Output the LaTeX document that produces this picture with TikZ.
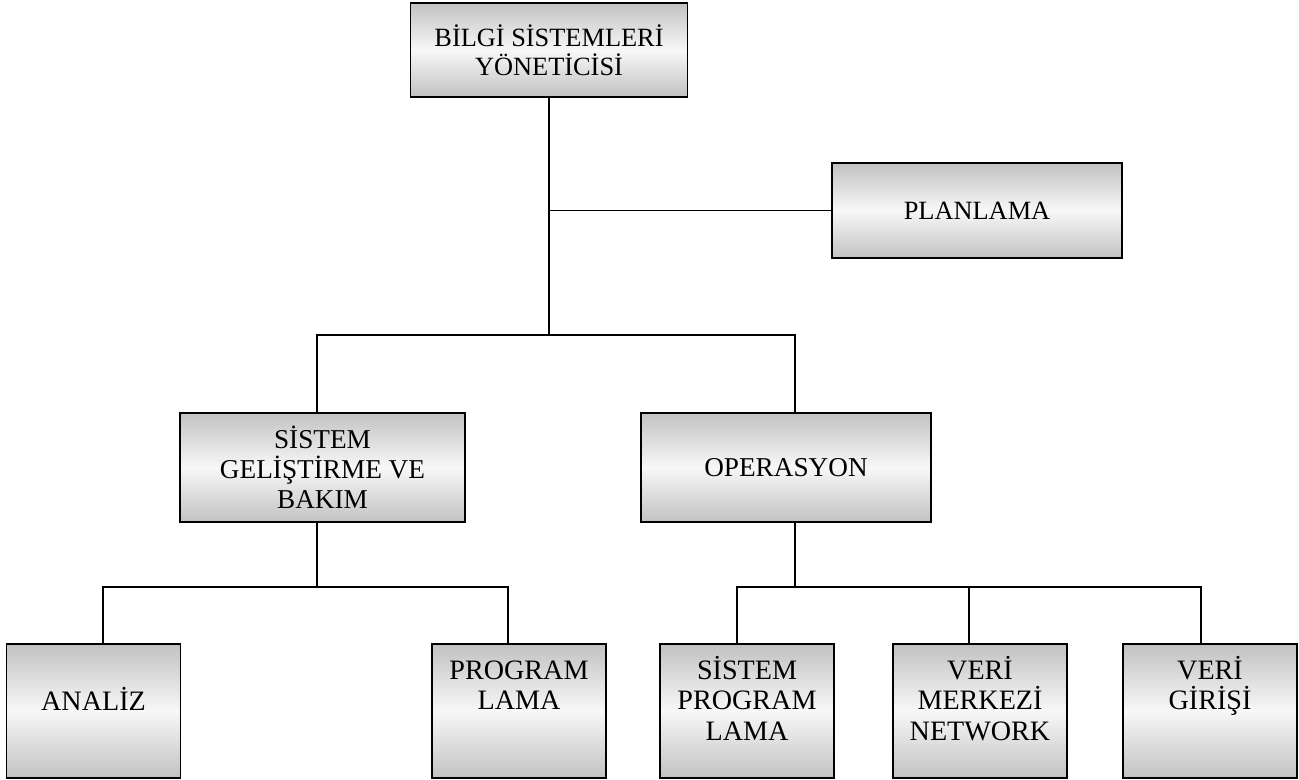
\documentclass[tikz,border=0pt]{standalone}
\usepackage{fontspec}
\setmainfont{Liberation Serif}
\usetikzlibrary{positioning}
\tikzset{
  orgbox/.style={draw=black, line width=0.9pt, top color=black!24, bottom color=black!24, middle color=black!3, align=center, font=\fontsize{15}{16.5}\selectfont, inner sep=0pt},
  unitbox/.style={orgbox, font=\fontsize{16}{17.5}\selectfont, text width=3.48cm, text height=0.7cm, text depth=1.98cm},
  link/.style={draw=black, line width=0.7pt}
}
\begin{document}
\begin{tikzpicture}
  \useasboundingbox (0,0) rectangle (25.98,-15.6);
  \node[orgbox, minimum width=5.54cm, minimum height=1.88cm] (top) at (10.98,-1.0) {BİLGİ SİSTEMLERİ\\YÖNETİCİSİ};
  \node[orgbox, minimum width=5.8cm, minimum height=1.9cm] (plan) at (19.54,-4.21) {PLANLAMA};
  \node[orgbox, font=\fontsize{15.5}{17}\selectfont, minimum width=5.7cm, minimum height=2.18cm] (sgb) at (6.45,-9.35) {SİSTEM\\GELİŞTİRME VE\\BAKIM};
  \node[orgbox, font=\fontsize{15.5}{17}\selectfont, minimum width=5.8cm, minimum height=2.18cm] (ops) at (15.72,-9.35) {OPERASYON};
  \node[unitbox, text height=1.32cm, text depth=1.36cm] (analiz) at (1.87,-14.22) {ANALİZ};
  \node[unitbox] (prog) at (10.38,-14.22) {PROGRAM\\LAMA};
  \node[unitbox] (sprog) at (14.94,-14.22) {SİSTEM\\PROGRAM\\LAMA};
  \node[unitbox] (merkez) at (19.6,-14.22) {VERİ\\MERKEZİ\\NETWORK};
  \node[unitbox] (giris) at (24.2,-14.22) {VERİ\\GİRİŞİ};
  \coordinate (hub) at (10.98,-6.7);
  \coordinate (hubL) at (6.34,-6.7);
  \coordinate (hubR) at (15.9,-6.7);
  \coordinate (barLa) at (2.06,-11.74);
  \coordinate (barLb) at (10.16,-11.74);
  \coordinate (barRa) at (14.74,-11.74);
  \coordinate (barRm) at (19.38,-11.74);
  \coordinate (barRb) at (24.02,-11.74);
  \draw[link] (top.south) -- (hub);
  \draw[link] (top.south |- plan.west) -- (plan.west);
  \draw[link] (hubL |- sgb.north) -- (hubL) -- (hubR) -- (hubR |- ops.north);
  \draw[link] (hubL |- sgb.south) -- (hubL |- barLa);
  \draw[link] (barLa |- analiz.north) -- (barLa) -- (barLb) -- (barLb |- prog.north);
  \draw[link] (hubR |- ops.south) -- (hubR |- barRa);
  \draw[link] (barRa |- sprog.north) -- (barRa) -- (barRb) -- (barRb |- giris.north);
  \draw[link] (barRm) -- (barRm |- merkez.north);
\end{tikzpicture}
\end{document}
